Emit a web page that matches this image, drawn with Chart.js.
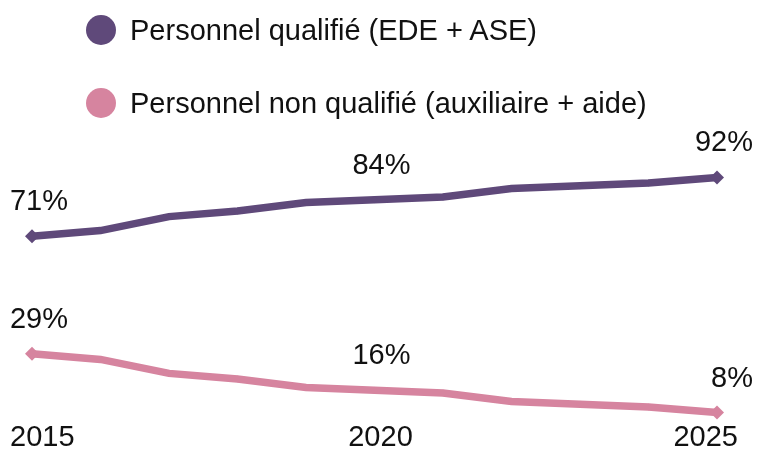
<!DOCTYPE html>
<html>
<head>
<meta charset="utf-8">
<script src="https://cdn.jsdelivr.net/npm/chart.js@4/dist/chart.umd.min.js"></script>
<style>
  html, body { margin: 0; padding: 0; background: #fff; }
  #wrap { position: relative; width: 759px; height: 450px; font-family: "Liberation Sans", Arial, sans-serif; }
  #legend { position: absolute; left: 86px; top: 0; }
  .item { position: absolute; left: 0; height: 30px; display: flex; align-items: center; white-space: nowrap; font-size: 29px; color: #111; }
  .dot { width: 30px; height: 30px; border-radius: 50%; margin-right: 14px; flex: none; }
</style>
</head>
<body>
<div id="wrap">
  <canvas id="chart" width="759" height="450"></canvas>
  <div id="legend"></div>
</div>
<script>
// Data
const years = ['2015', '2016', '2017', '2018', '2019', '2020', '2021', '2022', '2023', '2024', '2025'];
const qualified = [71, 73, 78, 80, 83, 84, 85, 88, 89, 90, 92];
const unqualified = [29, 27, 22, 20, 17, 16, 15, 12, 11, 10, 8];
const seriesNames = ['Personnel qualifié (EDE + ASE)', 'Personnel non qualifié (auxiliaire + aide)'];
const seriesColors = ['#5f497a', '#d6849f'];
// Which years get a value label / a year label under the axis
const labelledYears = ['2015', '2020', '2025'];

const FONT = '"Liberation Sans", Arial, sans-serif';

// Larger diamonds at both ends, small ones in between
function pointSizes(n) {
  return years.map((y, i) => (i === 0 || i === n - 1) ? 7 : 3.5);
}

// Draws the percentages above the points and the year labels
const labelPlugin = {
  id: 'labels',
  afterDatasetsDraw(chart) {
    const ctx = chart.ctx;
    ctx.save();
    ctx.font = '29px ' + FONT;
    ctx.fillStyle = '#111';
    ctx.textBaseline = 'alphabetic';
    ctx.textAlign = 'right';

    chart.data.datasets.forEach((ds, di) => {
      const meta = chart.getDatasetMeta(di);
      meta.data.forEach((pt, i) => {
        if (!labelledYears.includes(years[i])) return;
        ctx.fillText(ds.data[i] + '%', pt.x + 36, pt.y - 26);
      });
    });

    // year labels under the lines
    const xScale = chart.scales.x;
    const last = years.length - 1;
    years.forEach((y, i) => {
      if (!labelledYears.includes(y)) return;
      const x = xScale.getPixelForValue(i);
      if (i === 0) { ctx.textAlign = 'left'; ctx.fillText(y, x - 22, 446); }
      else if (i === last) { ctx.textAlign = 'right'; ctx.fillText(y, x + 21, 446); }
      else { ctx.textAlign = 'center'; ctx.fillText(y, x + 6, 446); }
    });
    ctx.restore();
  }
};

const chart = new Chart(document.getElementById('chart'), {
  type: 'line',
  data: {
    labels: years,
    datasets: [
      {
        label: seriesNames[0],
        data: qualified,
        borderColor: seriesColors[0],
        backgroundColor: seriesColors[0],
        borderWidth: 7.5,
        pointStyle: 'rectRot',
        pointRadius: pointSizes(years.length),
        pointBorderWidth: 0,
        tension: 0
      },
      {
        label: seriesNames[1],
        data: unqualified,
        borderColor: seriesColors[1],
        backgroundColor: seriesColors[1],
        borderWidth: 7.5,
        pointStyle: 'rectRot',
        pointRadius: pointSizes(years.length),
        pointBorderWidth: 0,
        tension: 0
      }
    ]
  },
  options: {
    responsive: false,
    animation: false,
    layout: { padding: { left: 32, right: 42, top: 155, bottom: 15 } },
    scales: {
      x: { display: false },
      y: { display: false, min: 0, max: 100 }
    },
    plugins: {
      legend: { display: false },
      tooltip: { enabled: false }
    }
  },
  plugins: [labelPlugin]
});

// HTML legend, one row per series
const legendEl = document.getElementById('legend');
chart.data.datasets.forEach((ds, i) => {
  const item = document.createElement('div');
  item.className = 'item';
  item.style.top = (15 + i * 73) + 'px';
  const dot = document.createElement('span');
  dot.className = 'dot';
  dot.style.background = ds.borderColor;
  const txt = document.createElement('span');
  txt.textContent = ds.label;
  item.appendChild(dot);
  item.appendChild(txt);
  legendEl.appendChild(item);
});
</script>
</body>
</html>
